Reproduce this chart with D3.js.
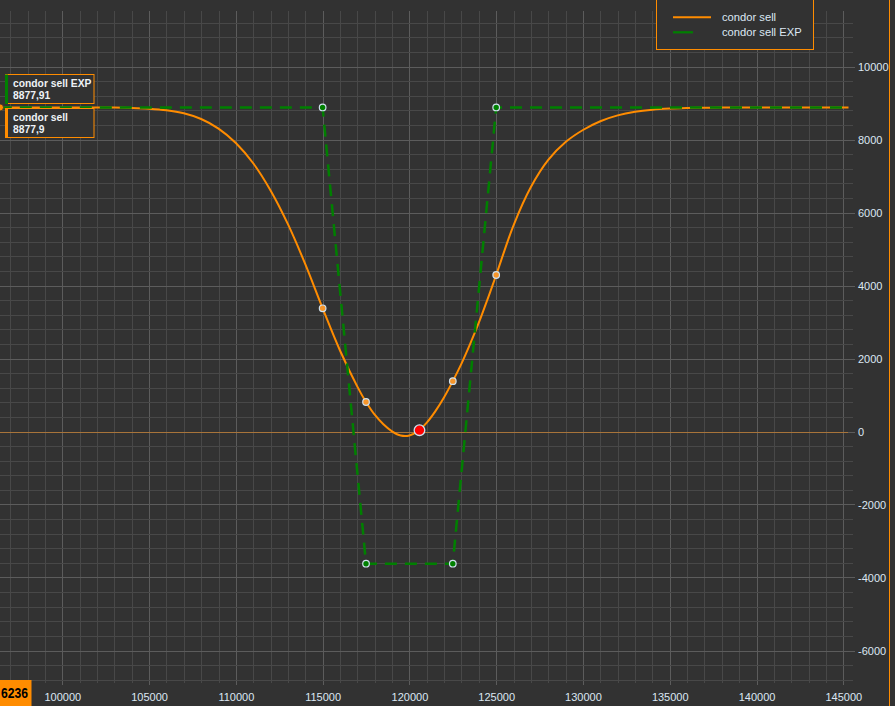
<!DOCTYPE html>
<html><head><meta charset="utf-8">
<script src="https://cdn.jsdelivr.net/npm/d3@7"></script>
<style>html,body{margin:0;padding:0;background:#323232;overflow:hidden}</style>
</head><body><svg id="c" width="895" height="706"></svg>
<script>
// ---- data ----
const seriesNames = ["condor sell", "condor sell EXP"];
const lastValueLabels = ["8877,9", "8877,91"];
const crossLabel = "6236";

const curveX = [96400,100000,102000,103000,104000,105000,106000,107000,108000,109000,110000,111000,112000,113000,114000,115000,116000,117000,117500,118000,118500,119000,119500,120000,120500,121000,121500,122000,122500,123000,123500,124000,124500,125000,126000,127000,128000,129000,130000,131000,132000,133000,134000,135000,136000,137000,138000,140000,145300];
const curveY = [8878,8878,8877,8874,8865,8845,8803,8718,8562,8300,7905,7350,6605,5680,4585,3375,2220,1230,808,460,200,5,-112,-110,15,245,560,940,1380,1860,2400,2980,3620,4288,5650,6700,7443,7931,8260,8500,8660,8760,8818,8848,8863,8871,8875,8877,8878];

const expX = [96400,115000,117500,122500,125000,145300];
const expY = [8877.91,8877.91,-3622,-3622,8877.91,8877.91];

const markerX = [115000,117500,122500,125000];
const markerCurveY = [3375,808,1380,4288];
const markerExpY = [8877.91,-3622,-3622,8877.91];
const spotX = [120580];
const spotY = [35];

const xTicks = [100000,105000,110000,115000,120000,125000,130000,135000,140000,145000];
const yTicks = [-6000,-4000,-2000,0,2000,4000,6000,8000,10000];

// ---- scales ----
const x = d3.scaleLinear().domain([100000,145000]).range([62.3,843.3]);
const y = d3.scaleLinear().domain([0,10000]).range([431.5,66.5]);

const svg = d3.select("#c");
const BG = "#323232";
const FONT = "'Liberation Sans', Arial, sans-serif";
const TXT = "#dce7f2";
svg.append("rect").attr("width",895).attr("height",706).attr("fill",BG);

// ---- grid ----
const g = svg.append("g");
const minorX = d3.range(97000,145001,1000);
const minorY = d3.range(-6800,11201,400);
g.selectAll(".vx").data(minorX).join("line")
  .attr("x1",d=>Math.round(x(d))+0.5).attr("x2",d=>Math.round(x(d))+0.5)
  .attr("y1",11).attr("y2",d=>d%5000===0?685:683)
  .attr("stroke",d=>d%5000===0?"#5c5c5c":"#484848").attr("stroke-width",1);
g.selectAll(".hy").data(minorY).join("line")
  .attr("y1",d=>Math.round(y(d))+0.5).attr("y2",d=>Math.round(y(d))+0.5)
  .attr("x1",0).attr("x2",d=>d%2000===0?855:853)
  .attr("stroke",d=>d%2000===0?"#5c5c5c":"#484848").attr("stroke-width",1);

// zero line
svg.append("line").attr("x1",0).attr("x2",848)
  .attr("y1",Math.round(y(0))+0.5).attr("y2",Math.round(y(0))+0.5)
  .attr("stroke","#a8743a").attr("stroke-width",1);

// ---- axes (labels) ----
const fmt = d => String(d);
const ax = svg.append("g").attr("transform","translate(0,685)")
  .call(d3.axisBottom(x).tickValues(xTicks).tickSize(0).tickPadding(8.5).tickFormat(fmt));
ax.select(".domain").remove();
ax.selectAll("text").attr("fill",TXT).attr("font-family",FONT).attr("font-size",11);

const ay = svg.append("g").attr("transform","translate(848,0)")
  .call(d3.axisRight(y).tickValues(yTicks).tickSize(0).tickPadding(10).tickFormat(fmt));
ay.select(".domain").remove();
ay.selectAll("text").attr("fill",TXT).attr("font-family",FONT).attr("font-size",11).attr("dy","0.33em");

// ---- series ----
const curveData = curveX.map((d,i)=>[d,curveY[i]]);
const expData = expX.map((d,i)=>[d,expY[i]]);
const lineC = d3.line().x(d=>x(d[0])).y(d=>y(d[1])).curve(d3.curveCatmullRom.alpha(0.5));
const lineL = d3.line().x(d=>x(d[0])).y(d=>y(d[1]));

svg.append("path").attr("d",lineC(curveData)).attr("fill","none")
  .attr("stroke","#ff8c00").attr("stroke-width",2);
svg.append("path").attr("d",lineL(expData)).attr("fill","none")
  .attr("stroke","#008000").attr("stroke-width",2.5).attr("stroke-dasharray","12,8");

// markers
svg.selectAll(".mc").data(markerX.map((d,i)=>[d,markerCurveY[i]])).join("circle")
  .attr("cx",d=>x(d[0])).attr("cy",d=>y(d[1])).attr("r",3.3)
  .attr("fill","#f7962a").attr("stroke","#cfe0ee").attr("stroke-width",1.2);
svg.selectAll(".me").data(markerX.map((d,i)=>[d,markerExpY[i]])).join("circle")
  .attr("cx",d=>x(d[0])).attr("cy",d=>y(d[1])).attr("r",3.3)
  .attr("fill","#008000").attr("stroke","#cfe0ee").attr("stroke-width",1.2);
svg.selectAll(".sp").data(spotX.map((d,i)=>[d,spotY[i]])).join("circle")
  .attr("cx",d=>x(d[0])).attr("cy",d=>y(d[1])).attr("r",5.3)
  .attr("fill","#ff0000").attr("stroke","#cfe0ee").attr("stroke-width",1.3);

// left edge marker
svg.append("circle").attr("cx",0).attr("cy",y(8877.9)).attr("r",3.5)
  .attr("fill","#ff8c00").attr("stroke","#333").attr("stroke-width",0.8);

// ---- last value boxes (top-left) ----
const boxes = [
  {name:seriesNames[1], val:lastValueLabels[1], color:"#008000", top:74.5},
  {name:seriesNames[0], val:lastValueLabels[0], color:"#ff8c00", top:108.5}
];
boxes.forEach(b=>{
  const bg = svg.append("g");
  bg.append("rect").attr("x",5.5).attr("y",b.top).attr("width",88.5).attr("height",29)
    .attr("fill",BG).attr("stroke","#ff8c00").attr("stroke-width",1);
  bg.append("rect").attr("x",5).attr("y",b.top).attr("width",3).attr("height",29.5).attr("fill",b.color);
  bg.append("text").attr("x",13).attr("y",b.top+12.2).text(b.name)
    .attr("fill","#eef2f6").attr("font-family",FONT).attr("font-size",10.3).attr("font-weight","bold");
  bg.append("text").attr("x",13).attr("y",b.top+24.3).text(b.val)
    .attr("fill","#eef2f6").attr("font-family",FONT).attr("font-size",10.3).attr("font-weight","bold");
});

// ---- legend ----
const lg = svg.append("g");
lg.append("rect").attr("x",656.5).attr("y",-2).attr("width",157).attr("height",51.5)
  .attr("fill",BG).attr("stroke","#ff8c00").attr("stroke-width",1);
const legendColors = ["#ff8c00","#008000"];
seriesNames.forEach((n,i)=>{
  const yy = 17.3 + i*15;
  lg.append("line").attr("x1",673).attr("x2",i===0?711:693).attr("y1",yy).attr("y2",yy)
    .attr("stroke",legendColors[i]).attr("stroke-width",i===0?2:2.2);
  lg.append("text").attr("x",722).attr("y",yy+4).text(n)
    .attr("fill",TXT).attr("font-family",FONT).attr("font-size",11.2);
});

// right border
svg.append("line").attr("x1",889.5).attr("x2",889.5).attr("y1",0).attr("y2",706)
  .attr("stroke","#ff8c00").attr("stroke-width",1);

// crosshair x label
svg.append("rect").attr("x",0).attr("y",680).attr("width",31.5).attr("height",26).attr("fill","#ff8c00");
svg.append("text").attr("x",1).attr("y",697.5).text(crossLabel)
  .attr("fill","#000").attr("font-family",FONT).attr("font-size",14).attr("font-weight","bold")
  .attr("textLength",27).attr("lengthAdjust","spacingAndGlyphs");
</script></body></html>
